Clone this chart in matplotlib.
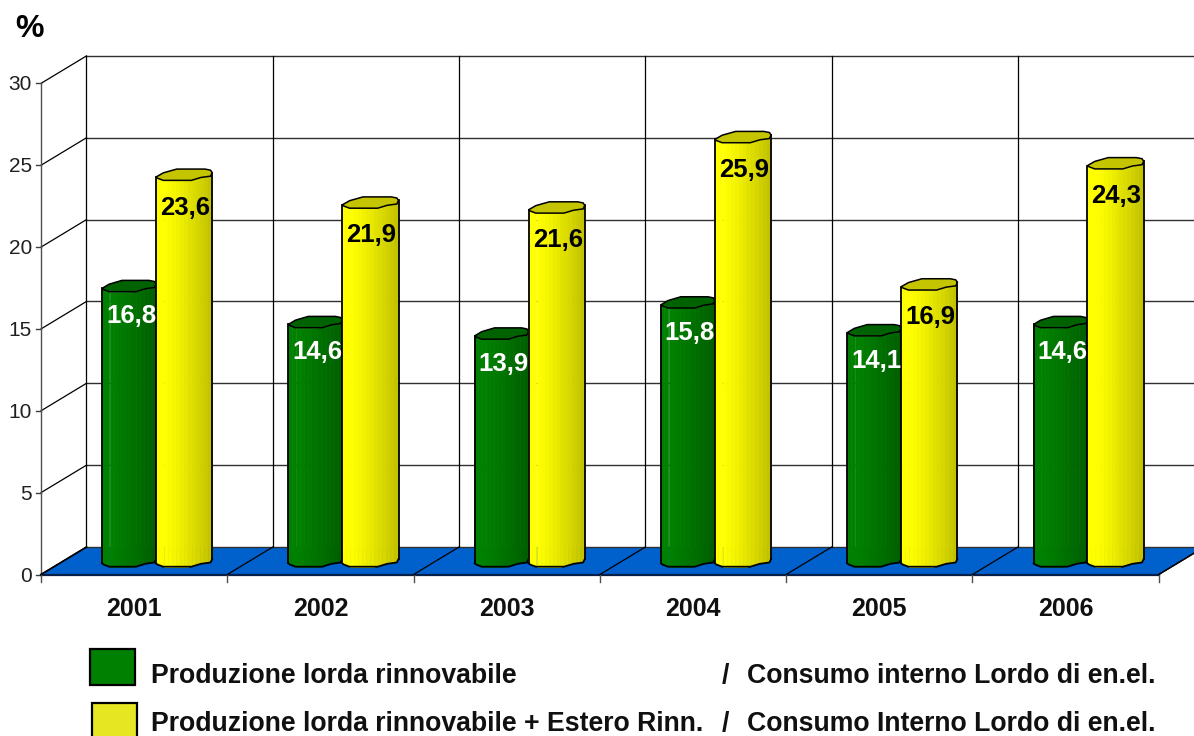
import numpy as np
import matplotlib
matplotlib.use("Agg")
import matplotlib.pyplot as plt
from matplotlib.patches import Rectangle

plt.rcParams['font.family'] = ['Liberation Sans', 'DejaVu Sans']

years = ['2001', '2002', '2003', '2004', '2005', '2006']
green_values = [16.8, 14.6, 13.9, 15.8, 14.1, 14.6]
yellow_values = [23.6, 21.9, 21.6, 25.9, 16.9, 24.3]
y_ticks = [0, 5, 10, 15, 20, 25, 30]
legend_left = ['Produzione lorda rinnovabile', 'Produzione lorda rinnovabile + Estero Rinn.']
legend_right = ['Consumo interno Lordo di en.el.', 'Consumo Interno Lordo di en.el.']

W, H = 1194, 736
PX_X = 186.3   # pixels per category
PX_Y = 16.37   # pixels per percent
X0, Y0 = 41, 574.5   # pixel position of the front corner of the floor


def dx(p):
    return p / PX_X


def dy(p):
    return p / PX_Y


DEPTH_X, DEPTH_Y = dx(45.5), dy(27.5)
BASE = dy(13.5)   # bars stand this far back on the floor

fig = plt.figure(figsize=(W / 100, H / 100), dpi=100)
ax = fig.add_axes([0, 0, 1, 1])
ax.set_xlim(-X0 / PX_X, (W - X0) / PX_X)
ax.set_ylim(-(H - Y0) / PX_Y, Y0 / PX_Y)
ax.axis('off')

n = len(years)
x_right = ax.get_xlim()[1]

# floor
ax.fill([0, n, n + DEPTH_X, DEPTH_X], [0, 0, DEPTH_Y, DEPTH_Y], color='#0060cc', lw=0, zorder=1)
ax.plot([0, n], [0, 0], color='#06204a', lw=1.6, zorder=2)
ax.plot([n, n + DEPTH_X], [0, DEPTH_Y], color='black', lw=1, zorder=2)

# back wall and side wall grid
for t in y_ticks:
    ax.plot([DEPTH_X, x_right], [t + DEPTH_Y] * 2, color='#303030', lw=1, zorder=1.5)
    if t > 0:
        ax.plot([0, DEPTH_X], [t, t + DEPTH_Y], color='black', lw=0.9, zorder=1.5)
    else:
        ax.plot([0, DEPTH_X], [0, DEPTH_Y], color='black', lw=1.2, zorder=2)
    ax.plot([-dx(5), 0], [t, t], color='#404040', lw=1, zorder=1.5)
    ax.text(-dx(9), t - dy(1.5), str(t), ha='right', va='center', fontsize=15, color='#202020')

for i in range(n + 1):
    ax.plot([i + DEPTH_X, i + DEPTH_X], [DEPTH_Y, 30 + DEPTH_Y], color='black', lw=0.9, zorder=1.5)
    ax.plot([i, i + DEPTH_X], [0, DEPTH_Y], color='black', lw=0.9, zorder=2)
    ax.plot([i, i], [0, -dy(7)], color='#505050', lw=1, zorder=2)

ax.plot([0, 0], [0, 30], color='#505050', lw=1, zorder=1.5)

# rim of the cylinders, u across the width, v pixels below the centre
front_u = [0, 0.03, 0.13, 0.63, 0.8, 0.97, 1]
front_v = [2.4, 3.6, 5.7, 5.7, 2.8, 1.5, -2]
back_u = [0, 0.13, 0.37, 0.87, 0.97, 1]
back_v = [2.4, -1.8, -5.6, -5.6, -4.5, -2]

strips = np.linspace(0, 1, 15)


def shade(light, dark, u):
    light = np.array(matplotlib.colors.to_rgb(light))
    dark = np.array(matplotlib.colors.to_rgb(dark))
    k = min(1, max(0, (u - 0.12) / 0.88)) ** 1.2
    return tuple(light + (dark - light) * k)


def draw_cylinder(left, width, value, light, dark, top_colour, z):
    fx = left + width * np.array(front_u)
    fv = dy(np.array(front_v))
    top = BASE + value
    for u0, u1 in zip(strips[:-1], strips[1:]):
        us = np.linspace(u0, u1, 6)
        xs = left + width * us
        y_top = top - np.interp(us, front_u, fv)
        y_bot = BASE - np.interp(us, front_u, fv)
        ax.fill(np.r_[xs, xs[::-1]], np.r_[y_bot, y_top[::-1]],
                color=shade(light, dark, u0), lw=0.5, zorder=z)
    # top face
    bx = left + width * np.array(back_u)
    bv = dy(np.array(back_v))
    ax.fill(np.r_[fx, bx[::-1]], np.r_[top - fv, (top - bv)[::-1]], fc=top_colour, ec='black', lw=1.1, zorder=z + 0.1)
    # outline
    ax.plot([fx[0], fx[0]], [top - fv[0], BASE - fv[0]], color='black', lw=1.3, zorder=z + 0.1)
    ax.plot([fx[-1], fx[-1]], [top - fv[-1], BASE - fv[-1]], color='black', lw=1.3, zorder=z + 0.1)
    ax.plot(fx, BASE - fv, color='black', lw=1.3, zorder=z + 0.1)


GREEN_LEFT, SPLIT, YELLOW_RIGHT = 0.328, 0.617, 0.919
for i in range(n):
    draw_cylinder(i + GREEN_LEFT, SPLIT - GREEN_LEFT, green_values[i], '#008000', '#005c00', '#006200', 3)
    draw_cylinder(i + SPLIT, YELLOW_RIGHT - SPLIT, yellow_values[i], '#ffff00', '#bdbd00', '#c4c400', 4)
    ax.text(i + (GREEN_LEFT + SPLIT) / 2 + dx(2), BASE + green_values[i] - dy(30.5), f'{green_values[i]:.1f}'.replace('.', ','),
            ha='center', va='center', fontsize=18.5, fontweight='bold', color='white', zorder=5)
    ax.text(i + (SPLIT + YELLOW_RIGHT) / 2 + dx(1), BASE + yellow_values[i] - dy(33), f'{yellow_values[i]:.1f}'.replace('.', ','),
            ha='center', va='center', fontsize=18.5, fontweight='bold', color='black', zorder=5)
    ax.text(i + 0.5, -dy(34), years[i], ha='center', va='center', fontsize=18, fontweight='bold', color='#101010')

# figure level text and legend, in pixels
ax.text(29 / W, 1 - 29 / H, '%', transform=ax.transAxes, ha='center', va='center', fontsize=23, fontweight='bold')

swatches = [(90, 649, 45, 36, '#008000'), (92, 703, 45, 38, '#e6e622')]
text_y = [676, 724]
for k in range(2):
    sx, sy, sw, sh, col = swatches[k]
    ax.add_patch(Rectangle((sx / W, 1 - (sy + sh) / H), sw / W, sh / H, transform=ax.transAxes,
                           fc=col, ec='black', lw=1.6, zorder=6))
    ax.text(151 / W, 1 - text_y[k] / H, legend_left[k], transform=ax.transAxes, ha='left', va='center',
            fontsize=19.2, fontweight='bold', color='#101010')
    ax.text(722 / W, 1 - text_y[k] / H, '/', transform=ax.transAxes, ha='left', va='center',
            fontsize=19.2, fontweight='bold', color='#101010')
    ax.text(747 / W, 1 - text_y[k] / H, legend_right[k], transform=ax.transAxes, ha='left', va='center',
            fontsize=19.2, fontweight='bold', color='#101010')

fig.savefig('out.png', dpi=100, facecolor='white')
